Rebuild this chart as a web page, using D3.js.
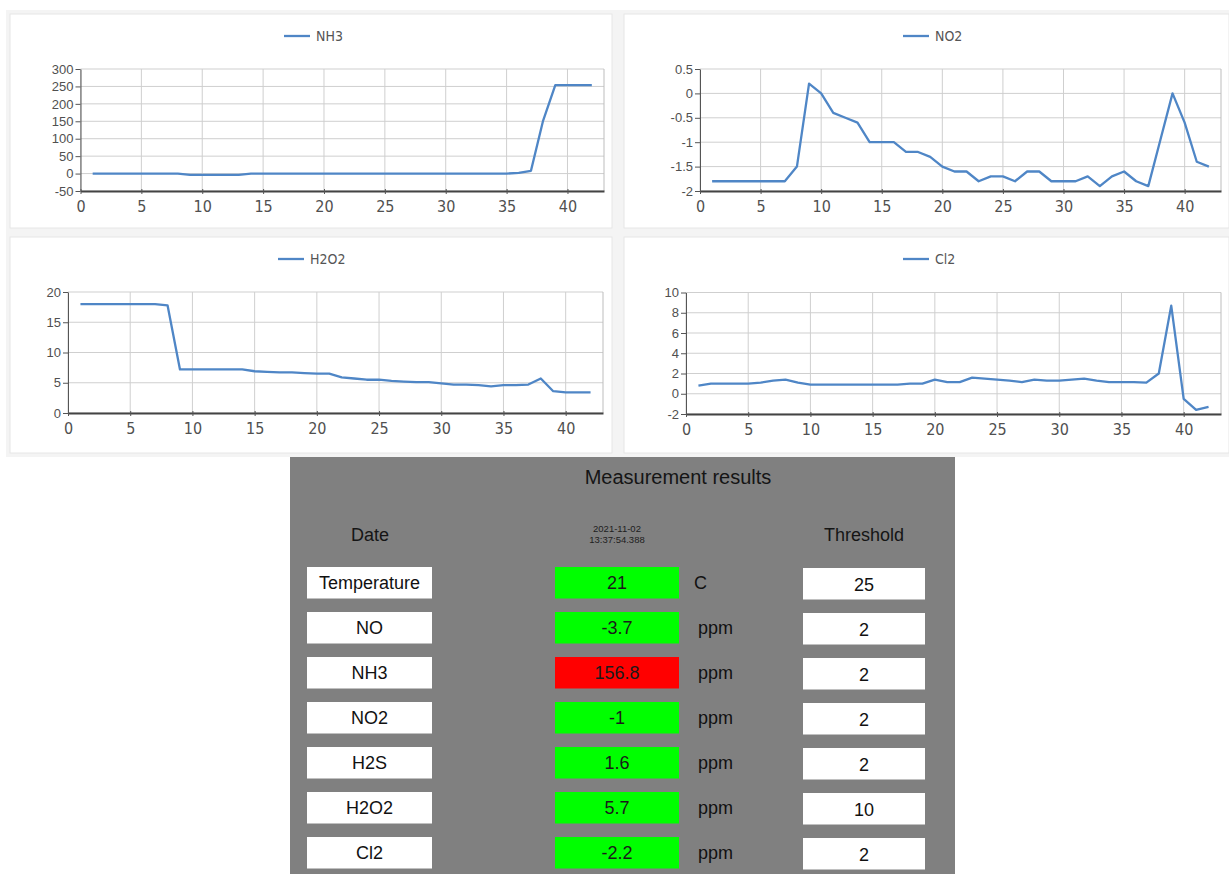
<!DOCTYPE html>
<html><head><meta charset="utf-8">
<script src="https://cdn.jsdelivr.net/npm/d3@7"></script>
<style>body{margin:0;background:#fff;} svg{display:block}</style>
</head><body><svg id="c" width="1229" height="874"></svg>
<script>
// ---------- DATA ----------
const xIndex = [1,2,3,4,5,6,7,8,9,10,11,12,13,14,15,16,17,18,19,20,21,22,23,24,25,26,27,28,29,30,31,32,33,34,35,36,37,38,39,40,41,42];
const nh3  = [0,0,0,0,0,0,0,0,-4,-4,-4,-4,-4,0,0,0,0,0,0,0,0,0,0,0,0,0,0,0,0,0,0,0,0,0,0,2,8,152,254,254,254,254];
const no2  = [-1.8,-1.8,-1.8,-1.8,-1.8,-1.8,-1.8,-1.5,0.2,0.0,-0.4,-0.5,-0.6,-1.0,-1.0,-1.0,-1.2,-1.2,-1.3,-1.5,-1.6,-1.6,-1.8,-1.7,-1.7,-1.8,-1.6,-1.6,-1.8,-1.8,-1.8,-1.7,-1.9,-1.7,-1.6,-1.8,-1.9,-0.95,0.0,-0.6,-1.4,-1.5];
const h2o2 = [18,18,18,18,18,18,18,17.8,7.2,7.2,7.2,7.2,7.2,7.2,6.9,6.8,6.7,6.7,6.6,6.5,6.5,5.9,5.7,5.5,5.5,5.3,5.2,5.1,5.1,4.9,4.7,4.7,4.6,4.4,4.6,4.6,4.7,5.7,3.6,3.4,3.4,3.4];
const cl2  = [0.8,1.0,1.0,1.0,1.0,1.1,1.3,1.4,1.1,0.9,0.9,0.9,0.9,0.9,0.9,0.9,0.9,1.0,1.0,1.4,1.15,1.15,1.6,1.5,1.4,1.3,1.15,1.4,1.3,1.3,1.4,1.5,1.3,1.15,1.15,1.15,1.1,2.0,8.7,-0.5,-1.6,-1.3];

const xTicks    = [0,5,10,15,20,25,30,35,40];
const nh3Ticks  = [-50,0,50,100,150,200,250,300];
const no2Ticks  = [-2,-1.5,-1,-0.5,0,0.5];
const h2o2Ticks = [0,5,10,15,20];
const cl2Ticks  = [-2,0,2,4,6,8,10];

const seriesNames = ["NH3","NO2","H2O2","Cl2"];

const tableTitle = "Measurement results";
const headerDate = "Date";
const headerStamp = ["2021-11-02","13:37:54.388"];
const headerThreshold = "Threshold";
const tableNames = ["Temperature","NO","NH3","NO2","H2S","H2O2","Cl2"];
const tableValues = ["21","-3.7","156.8","-1","1.6","5.7","-2.2"];
const tableUnits = ["C","ppm","ppm","ppm","ppm","ppm","ppm"];
const tableThresholds = ["25","2","2","2","2","10","2"];
const tableAlarm = [false,false,true,false,false,false,false];

// ---------- LAYOUT ----------
const svg = d3.select("#c");
const LINE = "#4f86c6";
const panels = [
  {name:seriesNames[0], data:nh3,  ticks:nh3Ticks,  dom:[-50,300], L:80.5, R:604,  T:69,  B:191, lx:284, ly:36,  box:[10,14,602,214]},
  {name:seriesNames[1], data:no2,  ticks:no2Ticks,  dom:[-2,0.5],  L:700,  R:1221, T:69,  B:191, lx:903, ly:36,  box:[624,14,605,214]},
  {name:seriesNames[2], data:h2o2, ticks:h2o2Ticks, dom:[0,20],    L:68,   R:603,  T:292, B:413, lx:278, ly:259, box:[10,237,602,216]},
  {name:seriesNames[3], data:cl2,  ticks:cl2Ticks,  dom:[-2,10],   L:686,  R:1221, T:292.5, B:414, lx:903, ly:259, box:[624,237,605,216]}
];

svg.append("rect").attr("x",6).attr("y",10).attr("width",1223).attr("height",447).attr("fill","#f4f4f4");

panels.forEach(p => {
  const g = svg.append("g");
  g.append("rect").attr("x",p.box[0]).attr("y",p.box[1]).attr("width",p.box[2]).attr("height",p.box[3])
    .attr("fill","#fff").attr("stroke","#e6e6e6");
  const x = d3.scaleLinear().domain([0,43]).range([p.L,p.R]);
  const y = d3.scaleLinear().domain(p.dom).range([p.B,p.T]);

  // gridlines
  g.append("g").selectAll("line.h").data(p.ticks).join("line")
    .attr("x1",p.L).attr("x2",p.R).attr("y1",d=>y(d)).attr("y2",d=>y(d))
    .attr("stroke","#cfcfcf").attr("stroke-width",1);
  g.append("g").selectAll("line.v").data(xTicks).join("line")
    .attr("x1",d=>x(d)).attr("x2",d=>x(d)).attr("y1",p.T).attr("y2",p.B)
    .attr("stroke","#cfcfcf").attr("stroke-width",1);
  // plot border right
  g.append("line").attr("x1",p.R).attr("x2",p.R).attr("y1",p.T).attr("y2",p.B).attr("stroke","#bdbdbd");

  // y axis
  const ya = d3.axisLeft(y).tickValues(p.ticks).tickSize(5).tickSizeOuter(0).tickFormat(d=>String(d));
  const yg = g.append("g").attr("transform",`translate(${p.L},0)`).call(ya);
  yg.select(".domain").attr("stroke","#555");
  yg.selectAll(".tick line").attr("stroke","#555");
  yg.selectAll("text").attr("font-family","'Liberation Sans',Arial,sans-serif").attr("font-size",13)
    .attr("fill","#505050").attr("dx",1);

  // x axis
  const xa = d3.axisBottom(x).tickValues(xTicks).tickSize(3).tickSizeOuter(0).tickFormat(d=>String(d));
  const xg = g.append("g").attr("transform",`translate(0,${p.B})`).call(xa);
  xg.select(".domain").attr("stroke","#444").attr("stroke-width",2);
  xg.selectAll(".tick line").attr("stroke","#555").attr("y1",-2);
  xg.selectAll("text").attr("font-family","'Liberation Sans Narrow','DejaVu Sans Condensed',sans-serif")
    .attr("font-size",16).attr("fill","#505050").attr("dy","0.95em");

  // series line
  const line = d3.line().x((d,i)=>x(xIndex[i])).y(d=>y(d));
  g.append("path").datum(p.data).attr("d",line).attr("fill","none")
    .attr("stroke",LINE).attr("stroke-width",2.3).attr("stroke-linejoin","round");

  // legend
  g.append("line").attr("x1",p.lx).attr("x2",p.lx+26).attr("y1",p.ly).attr("y2",p.ly)
    .attr("stroke",LINE).attr("stroke-width",2.3);
  g.append("text").attr("x",p.lx+32).attr("y",p.ly).attr("dy","0.35em")
    .attr("font-family","'Liberation Sans Narrow','DejaVu Sans Condensed',sans-serif")
    .attr("font-size",14).attr("fill","#555").text(p.name);
});

// ---------- TABLE ----------
const T = svg.append("g");
T.append("rect").attr("x",290).attr("y",457).attr("width",665).attr("height",417).attr("fill","#808080");
const F = "'Liberation Sans',Arial,sans-serif";
T.append("text").attr("x",678).attr("y",484).attr("text-anchor","middle").attr("font-family",F)
  .attr("font-size",20).attr("fill","#151515").text(tableTitle);
T.append("text").attr("x",370).attr("y",541).attr("text-anchor","middle").attr("font-family",F)
  .attr("font-size",18).attr("fill","#151515").text(headerDate);
T.append("text").attr("x",864).attr("y",541).attr("text-anchor","middle").attr("font-family",F)
  .attr("font-size",18).attr("fill","#151515").text(headerThreshold);
T.selectAll("text.stamp").data(headerStamp).join("text")
  .attr("x",617).attr("y",(d,i)=>532+i*11).attr("text-anchor","middle").attr("font-family",F)
  .attr("font-size",9.5).attr("fill","#202020").text(d=>d);

const rowY = d3.scaleBand().domain(tableNames).range([567, 567+45*7]).paddingInner(0).paddingOuter(0);
const BH = 31.5;
const rows = T.selectAll("g.row").data(tableNames).join("g").attr("transform",d=>`translate(0,${rowY(d)})`);
rows.append("rect").attr("x",307).attr("y",0).attr("width",125).attr("height",BH).attr("fill","#fff");
rows.append("text").attr("x",369.5).attr("y",BH/2).attr("dy","0.35em").attr("text-anchor","middle")
  .attr("font-family",F).attr("font-size",18).attr("fill","#111").text(d=>d);
rows.append("rect").attr("x",555).attr("y",0).attr("width",124).attr("height",BH)
  .attr("fill",(d,i)=>tableAlarm[i]?"#ff0000":"#00ff00");
rows.append("text").attr("x",617).attr("y",BH/2).attr("dy","0.35em").attr("text-anchor","middle")
  .attr("font-family",F).attr("font-size",18).attr("fill","#1a1a1a").text((d,i)=>tableValues[i]);
rows.append("text").attr("x",(d,i)=>tableUnits[i]==="C"?694:698).attr("y",BH/2).attr("dy","0.35em")
  .attr("font-family",F).attr("font-size",18).attr("fill","#111").text((d,i)=>tableUnits[i]);
rows.append("rect").attr("x",803).attr("y",1).attr("width",122).attr("height",BH).attr("fill","#fff");
rows.append("text").attr("x",864).attr("y",BH/2+2).attr("dy","0.35em").attr("text-anchor","middle")
  .attr("font-family",F).attr("font-size",18).attr("fill","#111").text((d,i)=>tableThresholds[i]);
</script></body></html>
